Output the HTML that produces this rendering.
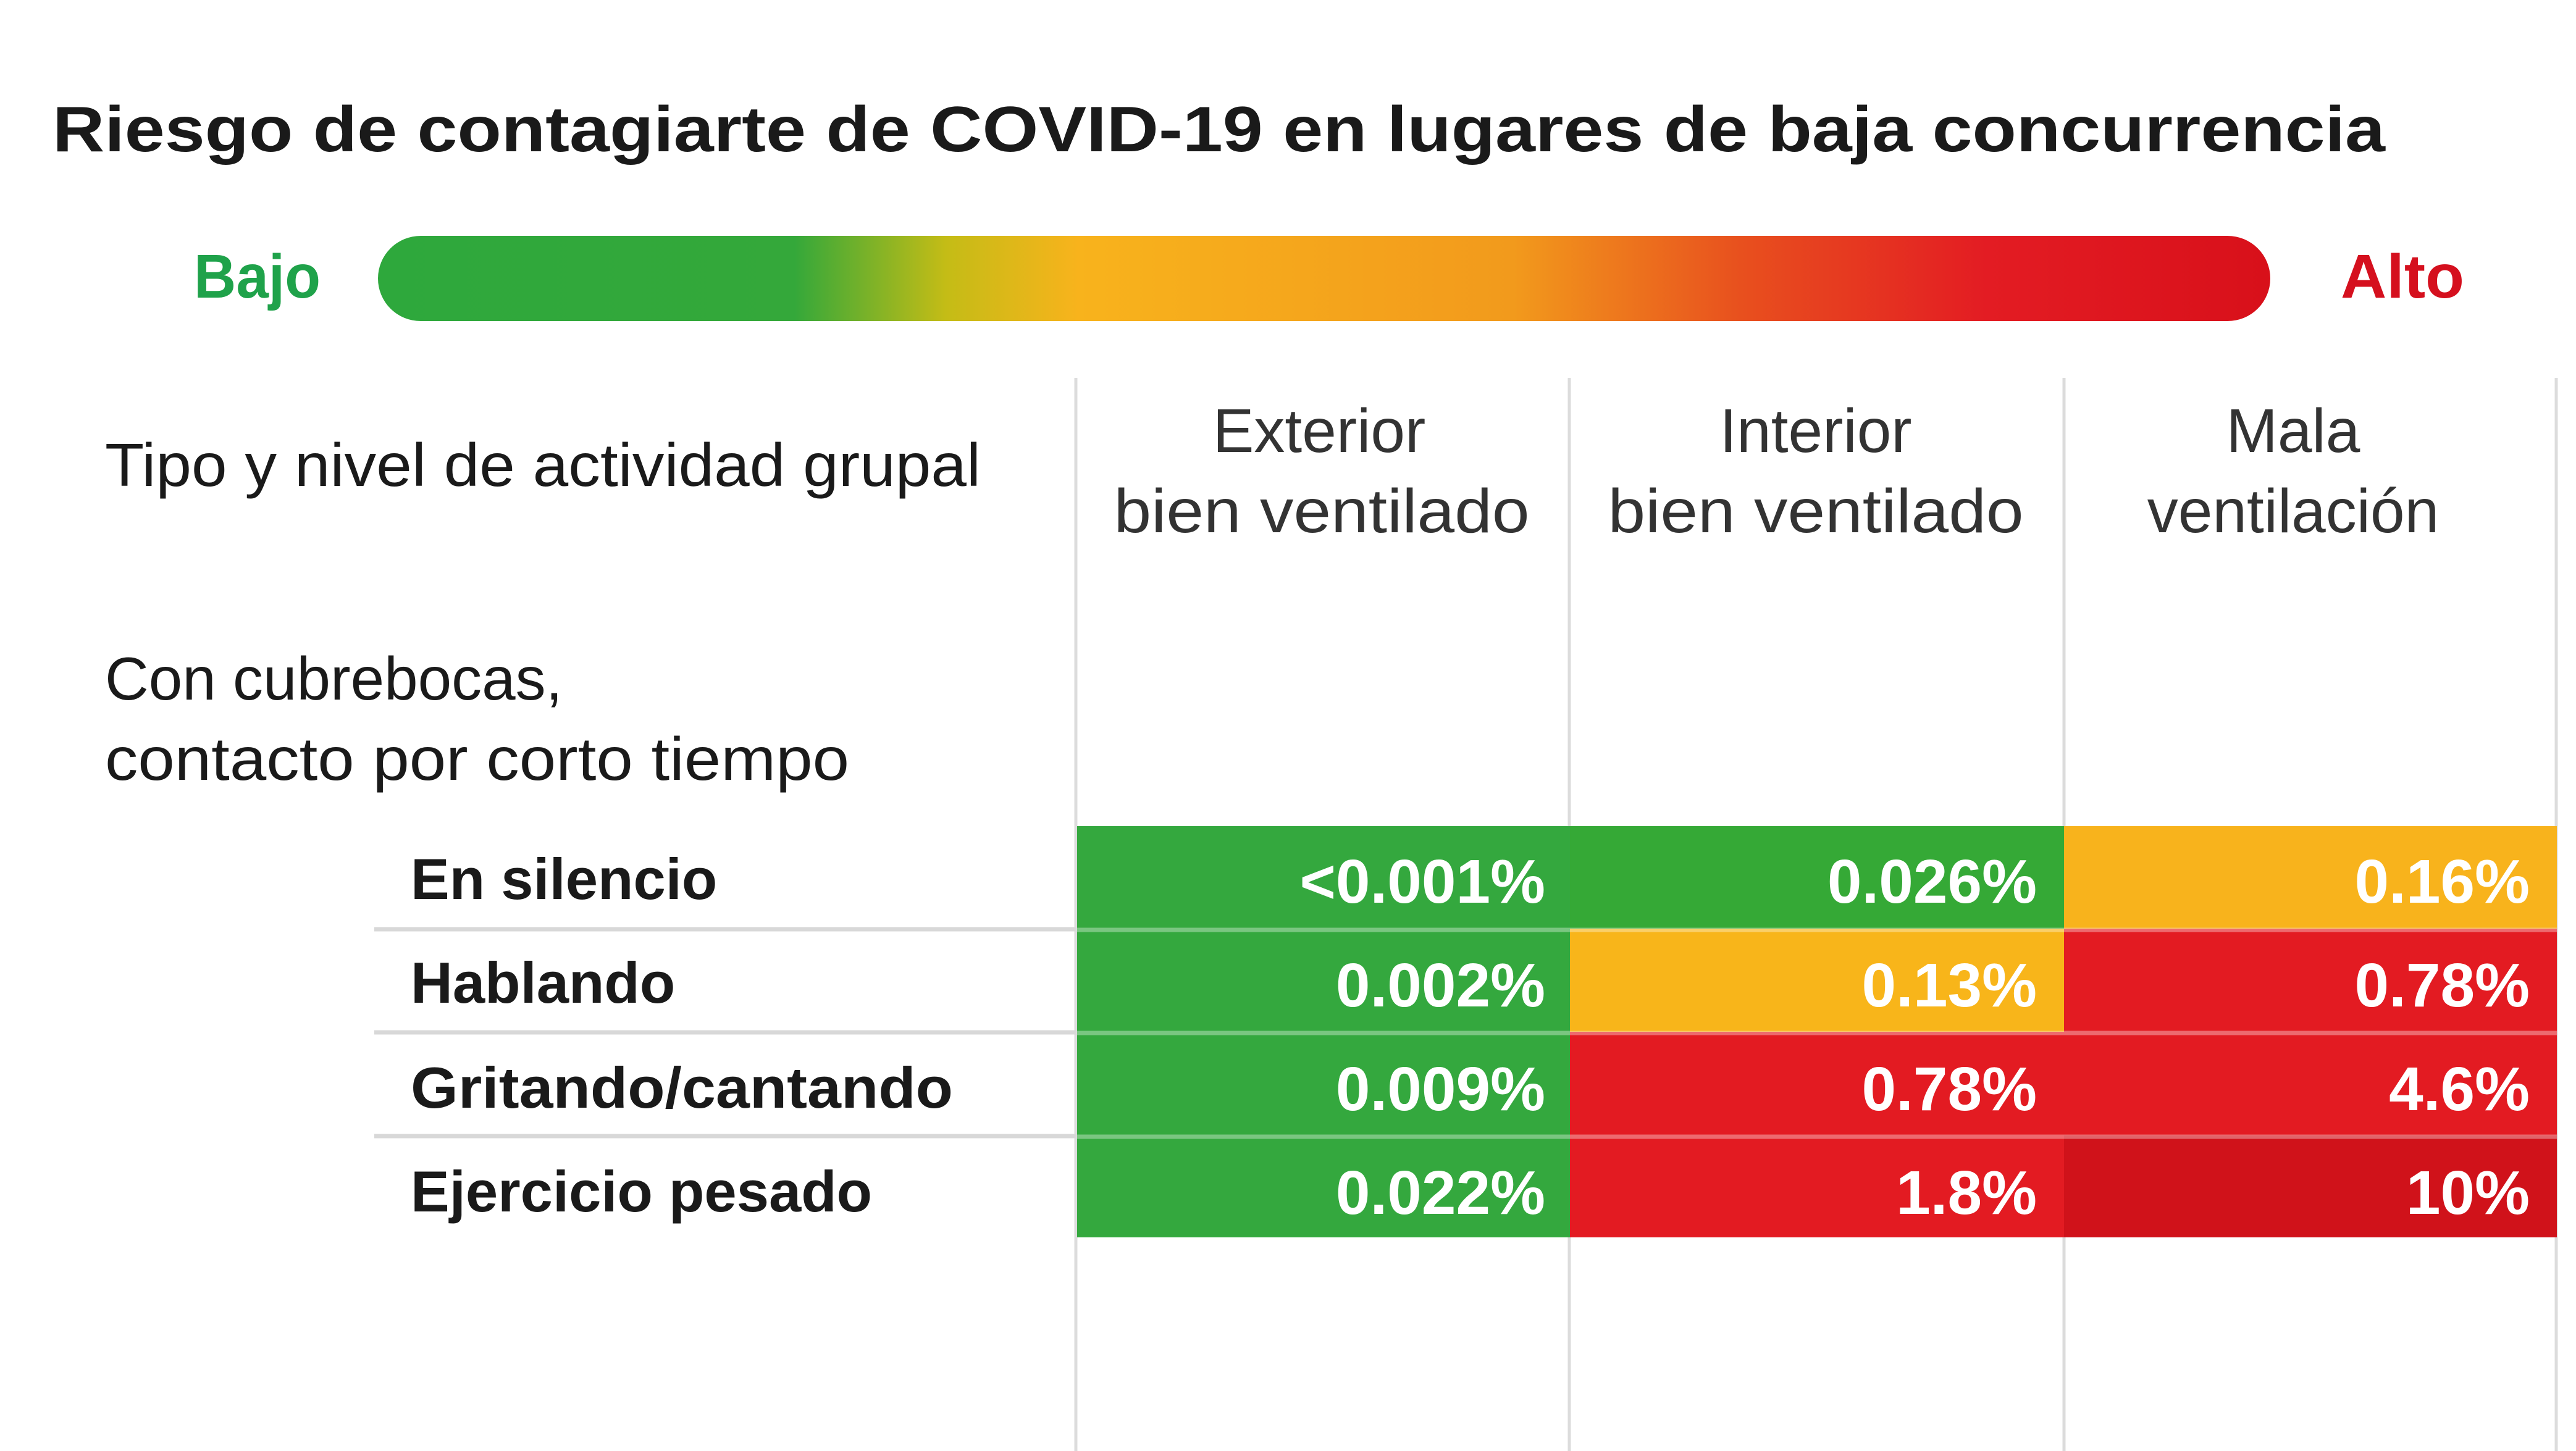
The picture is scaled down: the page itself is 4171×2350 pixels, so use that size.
<!DOCTYPE html>
<html><head><meta charset="utf-8"><style>html,body{margin:0;padding:0;background:#fff;}svg{display:block}</style></head>
<body>
<svg width="4171" height="2350" viewBox="0 0 4171 2350" xmlns="http://www.w3.org/2000/svg" font-family="Liberation Sans, sans-serif">
<defs>
<linearGradient id="g" x1="0" x2="1" y1="0" y2="0">
<stop offset="0" stop-color="#2ea83c"/>
<stop offset="0.22" stop-color="#34a83a"/>
<stop offset="0.3" stop-color="#c4bc16"/>
<stop offset="0.37" stop-color="#f8b31c"/>
<stop offset="0.6" stop-color="#f29a1c"/>
<stop offset="0.72" stop-color="#e8501e"/>
<stop offset="0.85" stop-color="#e31c23"/>
<stop offset="1" stop-color="#d8101a"/>
</linearGradient>
</defs>
<rect width="4171" height="2350" fill="#fff"/>
<text x="85" y="245" font-size="104" font-weight="bold" fill="#1a1a1a" textLength="3777" lengthAdjust="spacingAndGlyphs">Riesgo de contagiarte de COVID-19 en lugares de baja concurrencia</text>
<text x="314" y="482" font-size="100" font-weight="bold" fill="#1fa24a" textLength="205" lengthAdjust="spacingAndGlyphs">Bajo</text>
<rect x="612" y="382" width="3064" height="138" rx="69" fill="url(#g)"/>
<text x="3790" y="482" font-size="100" font-weight="bold" fill="#d5101e" textLength="200" lengthAdjust="spacingAndGlyphs">Alto</text>
<g stroke="#dcdcdc" stroke-width="5">
<line x1="1742" y1="612" x2="1742" y2="2350"/>
<line x1="2541" y1="612" x2="2541" y2="2350"/>
<line x1="3342" y1="612" x2="3342" y2="2350"/>
<line x1="4139" y1="612" x2="4139" y2="2350"/>
</g>
<g font-size="100" fill="#333" text-anchor="middle">
<text x="2136" y="732">Exterior</text>
<text x="2140" y="862" textLength="673" lengthAdjust="spacingAndGlyphs">bien ventilado</text>
<text x="2940" y="732">Interior</text>
<text x="2940" y="862" textLength="673" lengthAdjust="spacingAndGlyphs">bien ventilado</text>
<text x="3713" y="732">Mala</text>
<text x="3713" y="862">ventilación</text>
</g>
<g font-size="98" fill="#1a1a1a">
<text x="170" y="787" textLength="1418" lengthAdjust="spacingAndGlyphs">Tipo y nivel de actividad grupal</text>
<text x="170" y="1133">Con cubrebocas,</text>
<text x="170" y="1263" textLength="1205" lengthAdjust="spacingAndGlyphs">contacto por corto tiempo</text>
</g>
<g font-size="94" font-weight="bold" fill="#1a1a1a">
<text x="665" y="1456">En silencio</text>
<text x="665" y="1624">Hablando</text>
<text x="665" y="1794" textLength="878" lengthAdjust="spacingAndGlyphs">Gritando/cantando</text>
<text x="665" y="1962">Ejercicio pesado</text>
</g>
<g stroke="#d8d8d8" stroke-width="7">
<line x1="606" y1="1505" x2="1742" y2="1505"/>
<line x1="606" y1="1672" x2="1742" y2="1672"/>
<line x1="606" y1="1840" x2="1742" y2="1840"/>
</g>
<rect x="1744" y="1338" width="798" height="166" fill="#34a83e"/>
<rect x="2542" y="1338" width="800" height="166" fill="#35a936"/>
<rect x="3342" y="1338" width="798" height="166" fill="#f8b31c"/>
<rect x="1744" y="1504" width="798" height="167" fill="#34a83e"/>
<rect x="2542" y="1504" width="800" height="167" fill="#f8b51a"/>
<rect x="3342" y="1504" width="798" height="167" fill="#e31b22"/>
<rect x="1744" y="1671" width="798" height="168" fill="#34a83e"/>
<rect x="2542" y="1671" width="800" height="168" fill="#e31b22"/>
<rect x="3342" y="1671" width="798" height="168" fill="#e31b22"/>
<rect x="1744" y="1839" width="798" height="165" fill="#34a83e"/>
<rect x="2542" y="1839" width="800" height="165" fill="#e31b22"/>
<rect x="3342" y="1839" width="798" height="165" fill="#d0121a"/>
<g stroke="#ffffff" stroke-opacity="0.35" stroke-width="7">
<line x1="1744" y1="1506" x2="4140" y2="1506"/>
<line x1="1744" y1="1673" x2="4140" y2="1673"/>
<line x1="1744" y1="1841" x2="4140" y2="1841"/>
</g>
<g font-size="100" font-weight="bold" fill="#fff" text-anchor="end">
<text x="2502" y="1462">&lt;0.001%</text>
<text x="3298" y="1462">0.026%</text>
<text x="4096" y="1462">0.16%</text>
<text x="2502" y="1630">0.002%</text>
<text x="3298" y="1630">0.13%</text>
<text x="4096" y="1630">0.78%</text>
<text x="2502" y="1798">0.009%</text>
<text x="3298" y="1798">0.78%</text>
<text x="4096" y="1798">4.6%</text>
<text x="2502" y="1966">0.022%</text>
<text x="3298" y="1966">1.8%</text>
<text x="4096" y="1966">10%</text>
</g>
</svg>
</body></html>
